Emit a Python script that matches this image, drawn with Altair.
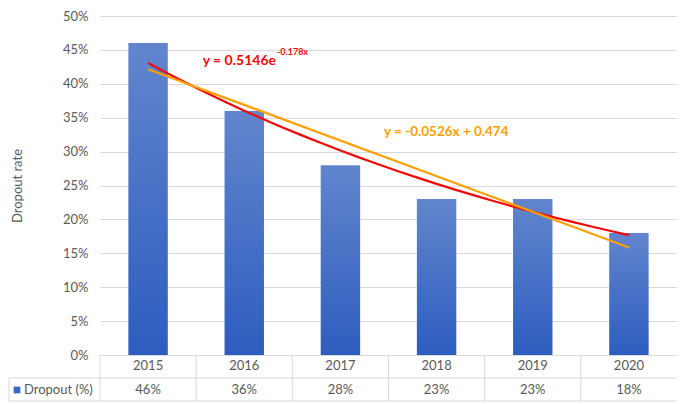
import altair as alt
import pandas as pd

years = ["2015", "2016", "2017", "2018", "2019", "2020"]
dropout = [0.46, 0.36, 0.28, 0.23, 0.23, 0.18]
series_name = "Dropout (%)"
y_title = "Dropout rate"
exp_eq_main = "y = 0.5146e"
exp_eq_sup = "-0.178x"
lin_eq = "y = -0.0526x + 0.474"

df = pd.DataFrame({"year": years, "dropout": dropout})
one = pd.DataFrame({"k": [0]})

FONT = "Lato"
GREY = "#595959"
LINE = "#d9d9d9"
TOP = 8
W, H = 577, 347 - TOP

xs = alt.Scale(domain=years, paddingInner=0, paddingOuter=0)
ys = alt.Scale(domain=[0, 0.5], nice=False, zero=True)
yaxis = alt.Axis(
    format=".0%", tickCount=10, domain=False, ticks=False, labelPadding=12,
    labelFont=FONT, labelFontSize=13, labelColor=GREY,
    gridColor=LINE, gridWidth=1,
    titleFont=FONT, titleFontSize=13, titleColor=GREY, titleFontWeight="normal",
    titleX=-83, titleY=H / 2, titleAngle=-90, titleAlign="center", titleBaseline="middle",
)

bars = alt.Chart(df).mark_bar(
    width=alt.RelativeBandSize(0.41),
    color=alt.Gradient(
        gradient="linear",
        stops=[alt.GradientStop(color="#6285cd", offset=0),
               alt.GradientStop(color="#2d5dbf", offset=1)],
        x1=0, x2=0, y1=0, y2=1,
    ),
).encode(
    x=alt.X("year:N", scale=xs, axis=None),
    y=alt.Y("dropout:Q", scale=ys, axis=yaxis, title=y_title),
)

year_text = alt.Chart(df).mark_text(font=FONT, fontSize=13, color=GREY).encode(
    x=alt.X("year:N", scale=xs, axis=None),
    y=alt.value(H + 11),
    text="year:N",
)
pct_text = alt.Chart(df).mark_text(font=FONT, fontSize=13, color=GREY).encode(
    x=alt.X("year:N", scale=xs, axis=None),
    y=alt.value(H + 35),
    text=alt.Text("dropout:Q", format=".0%"),
)
vlines = alt.Chart(df).mark_rule(color=LINE, strokeWidth=1).encode(
    x=alt.X("year:N", scale=xs, axis=None, bandPosition=0),
    y=alt.value(H),
    y2=alt.value(H + 46),
)
hline1 = alt.Chart(one).mark_rule(color=LINE, strokeWidth=1).encode(
    x=alt.value(-91), x2=alt.value(W), y=alt.value(H + 23)
)
hline2 = alt.Chart(one).mark_rule(color=LINE, strokeWidth=1).encode(
    x=alt.value(-91), x2=alt.value(W), y=alt.value(H + 46)
)
lborder = alt.Chart(one).mark_rule(color=LINE, strokeWidth=1).encode(
    x=alt.value(-91), y=alt.value(H + 23), y2=alt.value(H + 46)
)
leg_sq = alt.Chart(one).mark_square(size=45, color="#3a67c4", opacity=1).encode(
    x=alt.value(-83), y=alt.value(H + 35)
)
leg_txt = alt.Chart(one).mark_text(
    font=FONT, fontSize=13, color=GREY, align="left", baseline="middle"
).encode(x=alt.value(-76), y=alt.value(H + 35), text=alt.value(series_name))

base = alt.layer(bars, vlines, hline1, hline2, lborder, year_text, pct_text, leg_sq, leg_txt)

xl = alt.X("idx:Q", scale=alt.Scale(domain=[0.5, 6.5], nice=False, zero=False), axis=None)

exp_line = alt.Chart(df).transform_window(
    idx="row_number()"
).transform_calculate(
    ly="log(datum.dropout)"
).transform_regression(
    "idx", "ly", method="poly", order=1
).transform_calculate(
    fit="exp(datum.ly)"
).mark_line(color="#f00a0a", strokeWidth=2.2).encode(
    x=xl, y=alt.Y("fit:Q", scale=ys, title=y_title)
)

lin_line = alt.Chart(df).transform_window(
    idx="row_number()"
).transform_regression(
    "idx", "dropout", method="linear"
).mark_line(color="#ffa000", strokeWidth=2.2).encode(
    x=xl, y=alt.Y("dropout:Q", scale=ys, title=y_title)
)

eq1 = alt.Chart(one).mark_text(
    font=FONT, fontSize=14, fontWeight="bold", color="#f00a0a", align="right", baseline="middle"
).encode(x=alt.value(176), y=alt.value(61 - 8 - TOP), text=alt.value(exp_eq_main))
eq1s = alt.Chart(one).mark_text(
    font=FONT, fontSize=9, fontWeight="bold", color="#f00a0a", align="left", baseline="middle"
).encode(x=alt.value(177), y=alt.value(52 - 8 - TOP), text=alt.value(exp_eq_sup))
eq2 = alt.Chart(one).mark_text(
    font=FONT, fontSize=13.5, fontWeight="bold", color="#ffa000", align="left", baseline="middle"
).encode(x=alt.value(284), y=alt.value(132 - 8 - TOP), text=alt.value(lin_eq))

lines = alt.layer(exp_line, lin_line)

chart = alt.layer(base, lines, eq1, eq1s, eq2).resolve_scale(
    x="independent"
).properties(
    width=W, height=H,
    autosize=alt.AutoSizeParams(type="none"),
    padding={"left": 92, "top": TOP, "right": 0, "bottom": 47},
    background="white",
).configure_view(stroke=None)

chart.save("out.html", embed_options={"renderer": "svg", "actions": False})
